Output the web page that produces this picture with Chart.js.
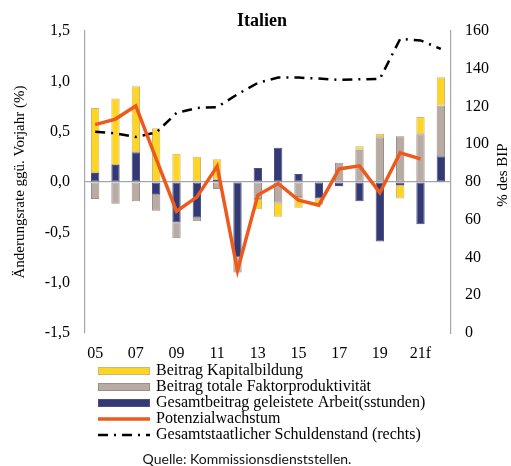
<!DOCTYPE html>
<html lang="de">
<head>
<meta charset="utf-8">
<title>Italien</title>
<script src="https://cdn.jsdelivr.net/npm/chart.js@4.4.1/dist/chart.umd.min.js"></script>
<style>
  html, body { margin: 0; padding: 0; background: #fff; }
  canvas { display: block; }
</style>
</head>
<body>
<canvas id="potChart" width="511" height="466"></canvas>
<script>
// ═══ DATA ═══
const years = ['05','06','07','08','09','10','11','12','13','14','15','16','17','18','19','20','21f','22f'];

// growth contributions, percentage points
const capital = [0.645, 0.66, 0.655, 0.535, 0.28, 0.25, 0.2, 0, -0.1, -0.14, -0.105, -0.06, -0.005, 0.035, 0.035, -0.135, 0.17, 0.28];
const tfp     = [-0.17, -0.215, -0.19, -0.165, -0.16, -0.035, -0.07, -0.15, -0.17, -0.205, -0.15, 0, 0.19, 0.32, 0.445, 0.455, 0.475, 0.505];
const labour  = [0.09, 0.17, 0.295, -0.12, -0.4, -0.355, 0.025, -0.75, 0.14, 0.34, 0.08, -0.165, -0.04, -0.19, -0.59, -0.03, -0.42, 0.255];
const potential = [0.57, 0.625, 0.757, 0.23, -0.29, -0.15, 0.157, -0.88, -0.13, -0.015, -0.18, -0.23, 0.13, 0.16, -0.107, 0.29, 0.23, null];

// general government debt, % of GDP (right axis)
const debt = [106.6, 105.8, 103.9, 106.2, 116.6, 119.2, 119.7, 126.5, 132.5, 135.4, 135.3, 134.8, 134.1, 134.4, 134.6, 155.8, 155.0, 150.5];

const leftTicks  = { min: -1.5, max: 1.5, step: 0.5 };
const rightTicks = { min: 0, max: 160, step: 20 };

const TITLE  = 'Italien';
const Y_TITLE = 'Änderungsrate ggü. Vorjahr (%)';
const Y1_TITLE = '% des BIP';
const SOURCE = 'Quelle: Kommissionsdienststellen.';

const SERIF = '"Liberation Serif", "Times New Roman", serif';
Chart.defaults.font.family = SERIF;
Chart.defaults.color = '#000';
const serif = size => ({ family: SERIF, size: size });

// legend rows drawn top-down in this dataset order
const legendOrder = [2, 1, 0, 3, 4];

// title, right axis caption, legend and source line
const overlay = {
  id: 'overlay',
  afterDraw(chart) {
    const { ctx, chartArea: a } = chart;
    ctx.save();
    ctx.fillStyle = '#000';
    ctx.textBaseline = 'middle';

    ctx.font = 'bold 18px ' + SERIF;
    ctx.textAlign = 'center';
    ctx.fillText(TITLE, (a.left + a.right) / 2 - 6, 21);

    ctx.save();
    ctx.font = '15px ' + SERIF;
    ctx.translate(a.right + 52, (a.top + a.bottom) / 2 - 7);
    ctx.rotate(-Math.PI / 2);
    ctx.fillText(Y1_TITLE, 0, 0);
    ctx.restore();

    // legend
    const x0 = a.left + 13, y0 = a.bottom + 38, row = 16;
    ctx.font = '16px ' + SERIF;
    ctx.textAlign = 'left';
    legendOrder.forEach((di, k) => {
      const ds = chart.data.datasets[di];
      const y = y0 + k * row;
      if (ds.type === 'bar') {
        ctx.fillStyle = ds.backgroundColor;
        ctx.fillRect(x0, y - 4, 52, 8);
        ctx.strokeStyle = ds.borderColor;
        ctx.lineWidth = 1;
        ctx.strokeRect(x0 + 0.5, y - 3.5, 51, 7);
      } else {
        ctx.strokeStyle = ds.borderColor;
        ctx.lineWidth = ds.borderWidth;
        ctx.setLineDash(ds.borderDash || []);
        ctx.beginPath();
        ctx.moveTo(x0, y);
        ctx.lineTo(x0 + 52, y);
        ctx.stroke();
        ctx.setLineDash([]);
      }
      ctx.fillStyle = '#000';
      ctx.fillText(ds.label, x0 + 58, y);
    });

    ctx.font = '14px Lato, "Noto Sans", sans-serif';
    ctx.textAlign = 'center';
    ctx.fillStyle = '#111';
    ctx.fillText(SOURCE, 247, 459);
    ctx.restore();
  }
};

const fmt = v => v.toFixed(1).replace('.', ',');

function initPotChart() {
  new Chart(document.getElementById('potChart'), {
    data: {
      labels: years,
      datasets: [
        { type:'bar', label:'Gesamtbeitrag geleistete Arbeit(sstunden)', data:labour,  backgroundColor:'#333A73', borderColor:'#4B5088', borderWidth:1, borderSkipped:false, order:1, stack:'g' },
        { type:'bar', label:'Beitrag totale Faktorproduktivität',        data:tfp,     backgroundColor:'#B8ABA3', borderColor:'#9C8F88', borderWidth:1, borderSkipped:false, order:1, stack:'g' },
        { type:'bar', label:'Beitrag Kapitalbildung',                    data:capital, backgroundColor:'#FFD524', borderColor:'#CDB77E', borderWidth:1, borderSkipped:false, order:1, stack:'g' },
        { type:'line', label:'Potenzialwachstum', data:potential, borderColor:'#EE5A1C', borderWidth:3.5, pointRadius:0, tension:0, fill:false, order:0, yAxisID:'y' },
        { type:'line', label:'Gesamtstaatlicher Schuldenstand (rechts)', data:debt, borderColor:'#000', borderWidth:2.5, borderDash:[10,6,2,6], pointRadius:0, tension:0, fill:false, order:0, yAxisID:'y1' }
      ]
    },
    options: {
      responsive: false,
      animation: false,
      layout: { padding: { top: 31, left: 0, right: 0, bottom: 0 } },
      datasets: { bar: { categoryPercentage: 1, barPercentage: 0.41 } },
      plugins: {
        legend: { display: false },
        title: { display: false },
        tooltip: { enabled: false }
      },
      scales: {
        x: {
          stacked: true,
          grid: { display: false, drawTicks: false },
          border: { display: false },
          ticks: {
            autoSkip: false, maxRotation: 0, padding: 11,
            font: serif(16),
            callback: (v, i) => i % 2 === 0 ? years[i] : ''
          },
          afterFit: s => { s.height = 133; }
        },
        y: {
          stacked: true,
          position: 'left',
          min: leftTicks.min, max: leftTicks.max,
          grid: {
            drawTicks: false,
            color: c => c.tick && c.tick.value === 0 ? '#A6A6A6' : 'rgba(0,0,0,0)',
            lineWidth: 1.2
          },
          border: { display: true, color: '#A6A6A6', width: 1.2 },
          ticks: { stepSize: leftTicks.step, padding: 15, font: serif(16), callback: v => fmt(v) },
          title: { display: true, text: Y_TITLE, font: serif(15), padding: { top: 11, bottom: 0 } },
          afterFit: s => { s.width = 85; }
        },
        y1: {
          position: 'right',
          min: rightTicks.min, max: rightTicks.max,
          grid: { display: false, drawTicks: false },
          border: { display: true, color: '#A6A6A6', width: 1.2 },
          ticks: { stepSize: rightTicks.step, padding: 14, font: serif(16) },
          afterFit: s => { s.width = 60; }
        }
      }
    },
    plugins: [overlay]
  });
}

document.addEventListener('DOMContentLoaded', initPotChart);
</script>
</body>
</html>
